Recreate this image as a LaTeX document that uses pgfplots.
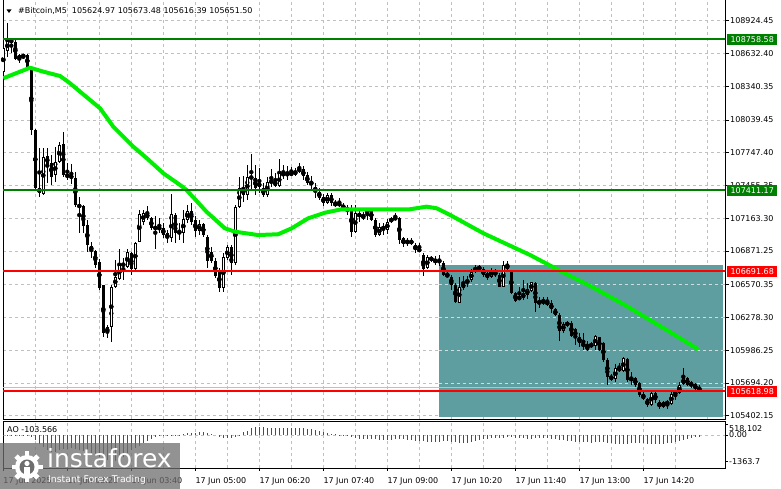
\documentclass[border=0pt]{standalone}
\usepackage{pgfplots}
\pgfplotsset{compat=1.18}
\usepackage{pgfplotstable}
\usepackage{fontspec}
\setmainfont{DejaVu Sans}
\definecolor{cteal}{RGB}{95,158,160}
\definecolor{malime}{RGB}{0,238,0}
\definecolor{lvgreen}{RGB}{0,128,0}
\definecolor{lvred}{RGB}{255,0,0}
\definecolor{gridgray}{RGB}{192,192,192}
\definecolor{wmgray}{RGB}{110,110,110}
\definecolor{tealdash}{RGB}{205,222,222}

\pgfplotstableread{
i O H L C
0 108467 108708 108458 108681
1 108657 108901 108603 108746
2 108752 108770 108636 108737
3 108737 108770 108574 108580
4 108580 108628 108545 108619
5 108619 108628 108580 108603
6 108619 108628 108503 108514
7 108514 108521 107905 107950
8 107950 107959 107415 107430
9 107433 107789 107355 107388
10 107379 107789 107370 107712
11 107718 107789 107477 107647
12 107653 107727 107459 107533
13 107548 107801 107489 107667
14 107667 107845 107655 107816
15 107825 107935 107533 107548
16 107557 107653 107504 107528
17 107540 107647 107474 107528
18 107519 107578 107266 107281
19 107281 107355 107029 107266
20 107272 107281 107029 107094
21 107103 107147 106865 106924
22 106915 106954 106806 106874
23 106874 106880 106717 106746
24 106775 106797 106523 106538
25 106568 106568 106107 106137
26 106137 106211 106092 106196
27 106196 106568 106062 106553
28 106553 106791 106538 106642
29 106619 106886 106612 106746
30 106761 106806 106612 106737
31 106731 106886 106717 106859
32 106850 106862 106657 106708
33 106708 106954 106701 106945
34 106954 107236 106951 107201
35 107132 107236 107103 107207
36 107212 107272 107147 107162
37 107162 107177 107058 107073
38 107082 107183 106886 107073
39 107080 107162 107029 107070
40 107073 107118 106984 107014
41 107029 107058 106940 106984
42 106989 107379 106954 107198
43 107192 107207 106940 107029
44 107043 107118 106969 107029
45 107034 107236 106940 107154
46 107147 107281 107118 107228
47 107228 107296 107103 107132
48 107147 107183 106998 107052
49 107052 107147 107014 107109
50 107109 107121 106998 107014
51 106998 107014 106717 106784
52 106865 106909 106761 106784
53 106784 106808 106627 106648
54 106701 106719 106508 106538
55 106538 106850 106508 106815
56 106806 106924 106791 106904
57 106904 106924 106657 106766
58 106766 107281 106746 107266
59 107266 107533 107252 107430
60 107430 107540 107310 107370
61 107370 107638 107326 107528
62 107533 107736 107415 107519
63 107519 107638 107370 107430
64 107480 107608 107385 107444
65 107430 107474 107350 107370
66 107370 107533 107355 107489
67 107498 107599 107444 107480
68 107498 107564 107442 107450
69 107450 107697 107442 107564
70 107564 107638 107510 107548
71 107564 107629 107504 107548
72 107564 107623 107540 107555
73 107557 107608 107540 107578
74 107599 107658 107564 107587
75 107599 107629 107504 107540
76 107548 107578 107459 107474
77 107489 107540 107421 107459
78 107444 107474 107341 107400
79 107400 107433 107326 107341
80 107355 107379 107272 107296
81 107296 107391 107290 107370
82 107370 107388 107272 107296
83 107296 107326 107266 107281
84 107296 107341 107266 107281
85 107281 107296 107236 107252
86 107252 107281 107192 107236
87 107252 107281 106998 107043
88 107043 107281 107029 107207
89 107207 107252 107132 107177
90 107162 107221 107147 107192
91 107230 107252 107147 107212
92 107236 107245 107141 107147
93 107147 107162 106998 107014
94 107014 107118 107005 107082
95 107088 107123 107014 107064
96 107058 107162 107022 107132
97 107132 107177 107118 107162
98 107171 107207 107147 107154
99 107162 107177 106933 106969
100 106984 106998 106909 106933
101 106969 106984 106915 106940
102 106969 106984 106924 106933
103 106924 106940 106856 106880
104 106886 106945 106865 106874
105 106835 106850 106648 106708
106 106717 106835 106708 106815
107 106806 106826 106775 106797
108 106797 106826 106746 106766
109 106784 106835 106737 106775
110 106761 106784 106648 106657
111 106642 106686 106636 106666
112 106642 106657 106523 106568
113 106568 106588 106410 106419
114 106410 106642 106404 106553
115 106538 106648 106523 106588
116 106612 106648 106547 106588
117 106612 106708 106597 106686
118 106686 106746 106672 106731
119 106731 106746 106695 106708
120 106708 106731 106642 106657
121 106677 106701 106612 106627
122 106642 106717 106627 106701
123 106657 106708 106642 106686
124 106657 106672 106547 106553
125 106553 106784 106547 106746
126 106755 106784 106701 106708
127 106686 106701 106487 106494
128 106494 106508 106419 106428
129 106440 106553 106434 106463
130 106449 106612 106434 106499
131 106478 106583 106440 106529
132 106517 106597 106508 106592
133 106583 106594 106330 106410
134 106404 106463 106360 106428
135 106428 106463 106389 106410
136 106398 106463 106380 106419
137 106404 106434 106315 106351
138 106351 106360 106291 106300
139 106300 106315 106071 106160
140 106160 106240 106137 106220
141 106211 106249 106190 106231
142 106231 106249 106101 106113
143 106173 106184 106033 106101
144 106107 106137 106018 106053
145 106048 106137 105988 106024
146 106033 106071 105982 105988
147 106024 106062 106003 106039
148 106024 106122 105988 106113
149 106101 106107 105982 105988
150 106048 106059 105884 105899
151 105899 105914 105676 105750
152 105727 105774 105714 105756
153 105727 105863 105705 105825
154 105810 105870 105795 105825
155 105804 105923 105795 105914
156 105905 105914 105705 105721
157 105721 105795 105676 105736
158 105736 105750 105661 105676
159 105697 105705 105572 105587
160 105596 105616 105542 105548
161 105548 105557 105482 105498
162 105498 105616 105489 105602
163 105602 105616 105513 105542
164 105527 105542 105459 105477
165 105527 105533 105471 105477
166 105507 105548 105459 105527
167 105507 105616 105498 105596
168 105596 105631 105542 105607
169 105602 105705 105596 105676
170 105685 105825 105676 105736
171 105736 105747 105667 105676
172 105691 105714 105647 105676
173 105682 105691 105631 105638
174 105624.97 105673.48 105616.39 105651.50
}\candles

\pgfplotstableread{
i v g
0 -11 0
1 6 1
2 15 1
3 19 1
4 8 0
5 14 1
6 -21 0
7 -106 0
8 -275 0
9 -446 0
10 -620 0
11 -776 0
12 -869 0
13 -848 1
14 -786 1
15 -728 1
16 -708 1
17 -682 1
18 -690 0
19 -759 0
20 -831 0
21 -897 0
22 -981 0
23 -1052 0
24 -1099 0
25 -1195 0
26 -1292 0
27 -1336 0
28 -1305 1
29 -1231 1
30 -1100 1
31 -916 1
32 -771 1
33 -685 1
34 -572 1
35 -433 1
36 -308 1
37 -190 1
38 -103 1
39 -59 1
40 -38 1
41 -44 0
42 -19 1
43 3 1
44 9 1
45 32 1
46 84 1
47 104 1
48 126 1
49 153 1
50 163 1
51 116 0
52 61 0
53 0 0
54 -78 0
55 -144 0
56 -145 0
57 -154 0
58 -105 1
59 20 1
60 132 1
61 222 1
62 352 1
63 428 1
64 426 0
65 405 0
66 377 0
67 346 0
68 334 0
69 337 1
70 359 1
71 370 1
72 366 0
73 367 1
74 358 0
75 340 0
76 320 0
77 287 0
78 244 0
79 189 0
80 137 0
81 97 0
82 60 0
83 31 0
84 9 0
85 -15 0
86 -48 0
87 -98 0
88 -142 0
89 -180 0
90 -206 0
91 -225 0
92 -220 1
93 -226 0
94 -241 0
95 -252 0
96 -259 0
97 -258 1
98 -229 1
99 -220 1
100 -228 0
101 -240 0
102 -263 0
103 -299 0
104 -309 0
105 -326 0
106 -338 0
107 -346 0
108 -344 1
109 -345 0
110 -327 1
111 -326 1
112 -344 0
113 -375 0
114 -404 0
115 -408 0
116 -399 1
117 -368 1
118 -308 1
119 -252 1
120 -216 1
121 -190 1
122 -172 1
123 -164 1
124 -169 0
125 -157 1
126 -127 1
127 -128 0
128 -153 0
129 -159 0
130 -171 0
131 -199 0
132 -188 1
133 -171 1
134 -172 0
135 -176 0
136 -178 0
137 -198 0
138 -209 0
139 -236 0
140 -266 0
141 -290 0
142 -312 0
143 -335 0
144 -339 0
145 -347 0
146 -369 0
147 -384 0
148 -381 1
149 -371 1
150 -372 0
151 -392 0
152 -422 0
153 -449 0
154 -466 0
155 -465 1
156 -437 1
157 -411 1
158 -400 1
159 -408 0
160 -430 0
161 -456 0
162 -466 0
163 -467 0
164 -465 1
165 -451 1
166 -423 1
167 -395 1
168 -367 1
169 -314 1
170 -244 1
171 -184 1
172 -140 1
173 -110 1
174 -103.566 1
}\ao

\begin{document}
\begin{tikzpicture}[x=1bp,y=1bp,font=\fontsize{8bp}{9.5bp}\selectfont]
\path[use as bounding box] (0,0) rectangle (781,489);
\pgfplotsset{
  cstyle/.style={only marks, mark=none, forget plot,
    error bars/.cd, y dir=both, y explicit, error mark=none},
}
\begin{axis}[
  at={(3bp,70bp)}, anchor=south west, scale only axis,
  width=722bp, height=420bp,
  xmin=-0.075, xmax=180.425, ymin=105372.8, ymax=109117.9,
  axis line style={black, line width=0.9bp},
  xtick={0,8,...,176}, xticklabels={}, xtick style={draw=none},
  xmajorgrids, ymajorgrids,
  grid style={gridgray, dash pattern=on 3bp off 3bp, line width=0.8bp},
  ytick={105402.15,105694.20,105986.25,106278.30,106570.35,106871.25,107163.30,107455.35,107747.40,108039.45,108340.35,108632.40,108924.45},
  yticklabels={105402.15,105694.20,105986.25,106278.30,106570.35,106871.25,107163.30,107455.35,107747.40,108039.45,108340.35,108632.40,108924.45},
  ytick pos=right, yticklabel pos=right, ytick align=outside,
  ytick style={black, line width=0.8bp}, major tick length=4bp,
  yticklabel style={anchor=west, inner sep=0pt, xshift=1bp},
  clip mode=individual,
]
% selection rectangle
\addplot[fill=cteal, draw=none, forget plot] coordinates {(108.8,105395) (179.8,105395) (179.8,106741.5) (108.8,106741.5)};
\addplot[tealdash, dash pattern=on 3bp off 3bp, line width=0.8bp, forget plot] coordinates {(108.8,106570.35) (179.8,106570.35)};
\addplot[tealdash, dash pattern=on 3bp off 3bp, line width=0.8bp, forget plot] coordinates {(108.8,106278.30) (179.8,106278.30)};
\addplot[tealdash, dash pattern=on 3bp off 3bp, line width=0.8bp, forget plot] coordinates {(108.8,105986.25) (179.8,105986.25)};
\addplot[tealdash, dash pattern=on 3bp off 3bp, line width=0.8bp, forget plot] coordinates {(108.8,105694.20) (179.8,105694.20)};
% bid line
\addplot[gridgray, line width=1bp, forget plot] coordinates {(-1,105651.50) (182,105651.50)};
% candles: wicks, bodies, white interiors
\addplot[cstyle, error bar style={black, line width=1bp}] table[x=i, y expr={(\thisrow{H}+\thisrow{L})/2}, y error expr={(\thisrow{H}-\thisrow{L})/2}] {\candles};
\addplot[cstyle, error bar style={black, line width=3bp}] table[x=i, y expr={(\thisrow{O}+\thisrow{C})/2}, y error expr={max(abs(\thisrow{O}-\thisrow{C})/2,4.5)}] {\candles};
\addplot[cstyle, error bar style={white, line width=1bp}] table[x=i, y expr={(\thisrow{O}+\thisrow{C})/2}, y error expr={max((\thisrow{C}-\thisrow{O})/2-8.9,0)}] {\candles};
% moving average
\addplot[malime, line width=4bp, line join=round, forget plot] coordinates {
(0,108411) (6.7,108505) (10,108470) (14.2,108431) (16.7,108366) (19.2,108291) (24.2,108143) (27.5,107979) (32.5,107801) (35.9,107697) (40,107564) (44.2,107459) (45.8,107415) (50.8,107221) (55.4,107073) (57.9,107043) (63.7,107013) (68.7,107020) (72.1,107073) (76.2,107162) (80.4,107212) (84.6,107243) (87.5,107241) (101.7,107243) (105.8,107266) (108.3,107252) (111.7,107192) (120,107029) (131.7,106835) (139.6,106686) (147.1,106552) (155.4,106389) (163.75,106211) (173.75,105994)};
% level lines
\addplot[lvgreen, line width=2bp, forget plot] coordinates {(-1,108758.58) (182,108758.58)};
\addplot[lvgreen, line width=2bp, forget plot] coordinates {(-1,107411.17) (182,107411.17)};
\addplot[lvred, line width=2bp, forget plot] coordinates {(-1,106691.68) (182,106691.68)};
\addplot[lvred, line width=2bp, forget plot] coordinates {(-1,105618.98) (182,105618.98)};
% price labels
\node[fill=lvgreen, text=white, anchor=west, inner xsep=3.4bp, inner ysep=2.5bp, text height=6bp, text depth=0bp, xshift=2bp] at (axis cs:180.425,108758.58) {108758.58};
\node[fill=lvgreen, text=white, anchor=west, inner xsep=3.4bp, inner ysep=2.5bp, text height=6bp, text depth=0bp, xshift=2bp] at (axis cs:180.425,107411.17) {107411.17};
\node[fill=lvred, text=white, anchor=west, inner xsep=3.4bp, inner ysep=2.5bp, text height=6bp, text depth=0bp, xshift=2bp] at (axis cs:180.425,106691.68) {106691.68};
\node[fill=lvred, text=white, anchor=west, inner xsep=3.4bp, inner ysep=2.5bp, text height=6bp, text depth=0bp, xshift=2bp] at (axis cs:180.425,105618.98) {105618.98};
\end{axis}

\begin{axis}[
  at={(3bp,21bp)}, anchor=south west, scale only axis,
  width=722bp, height=46.5bp,
  xmin=-0.075, xmax=180.425, ymin=-1685, ymax=689,
  axis line style={black, line width=0.9bp},
  xtick={0,16,...,160},
  xticklabels={17 Jun 2025,17 Jun 02:20,17 Jun 03:40,17 Jun 05:00,17 Jun 06:20,17 Jun 07:40,17 Jun 09:00,17 Jun 10:20,17 Jun 11:40,17 Jun 13:00,17 Jun 14:20},
  minor xtick={8,24,...,168},
  xmajorgrids, xminorgrids,
  grid style={gridgray, dash pattern=on 3bp off 3bp, line width=0.8bp},
  minor grid style={gridgray, dash pattern=on 3bp off 3bp, line width=0.8bp},
  xtick pos=bottom, xtick align=outside, major tick length=3bp, minor tick length=0pt,
  tick style={black, line width=0.8bp},
  xticklabel style={anchor=base west, inner sep=0pt, yshift=-12.5bp},
  ytick={-1363.7,0}, yticklabels={-1363.7,0.00},
  extra y ticks={518.102}, extra y tick labels={518.102},
  extra y tick style={yticklabel style={yshift=-3.5bp}},
  ytick pos=right, yticklabel pos=right, ytick align=outside,
  yticklabel style={anchor=west, inner sep=0pt, xshift=1bp},
  clip mode=individual,
]
\addplot[gridgray, dash pattern=on 3bp off 3bp, line width=0.8bp, forget plot] coordinates {(-0.075,0) (180.425,0)};
\addplot[ycomb, mark=none, lvgreen, line width=1bp, restrict expr to domain={\thisrow{g}}{0.5:1.5}] table[x=i, y=v] {\ao};
\addplot[ycomb, mark=none, lvred, line width=1bp, restrict expr to domain={\thisrow{g}}{-0.5:0.5}] table[x=i, y=v] {\ao};
\end{axis}

% header texts
\fill[black] (6.5,479.5) -- (11.5,479.5) -- (9,476) -- cycle;
\node[anchor=base west, inner sep=0pt] at (18,475) {\#Bitcoin,M5\ \ 105624.97 105673.48 105616.39 105651.50};
\node[anchor=base west, inner sep=0pt] at (7,56) {AO -103.566};

% watermark
\fill[wmgray, fill opacity=0.75] (0,0) rectangle (180,46);
\begin{scope}
\fill[white] (27,22) circle (12);
\foreach \a in {0,45,...,315} {
  \fill[white, rotate around={\a:(27,22)}] (24.6,31) rectangle (29.4,37.5);
}
\fill[wmgray] (27,22) circle (7.5);
\fill[white] (27,25.5) circle (2.6);
\fill[white] (24.3,12) rectangle (29.7,22);
\end{scope}
\node[anchor=base west, inner sep=0pt, text=white, font=\fontsize{25bp}{25bp}\selectfont] at (47,21) {instaforex};
\node[anchor=base west, inner sep=0pt, text=white, font=\fontsize{9.3bp}{10bp}\selectfont] at (48,6) {Instant Forex Trading};
\end{tikzpicture}
\end{document}
